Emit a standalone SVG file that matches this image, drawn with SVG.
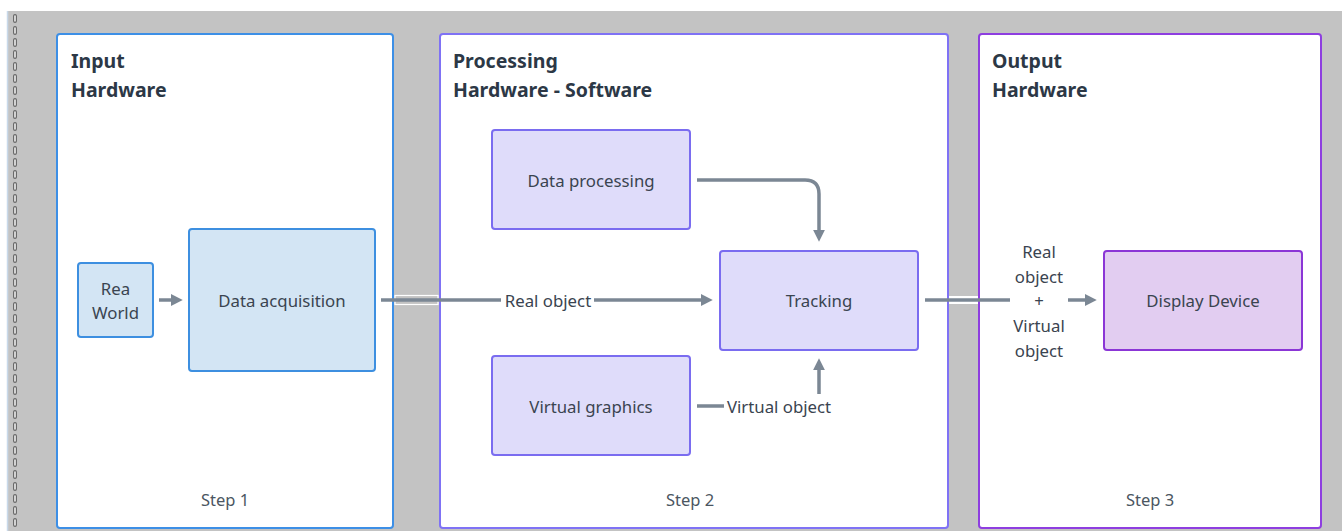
<svg xmlns="http://www.w3.org/2000/svg" width="1342" height="531" viewBox="0 0 1342 531">
  <defs>
    <style>
      .panel { fill: #ffffff; stroke-width: 2; }
      .title { font-family: "Noto Sans", "Liberation Sans", sans-serif; font-weight: 700; font-size: 19.5px; fill: #2c3846; }
      .lbl { font-family: "Noto Sans", "Liberation Sans", sans-serif; font-size: 16.8px; fill: #3a4450; text-anchor: middle; dominant-baseline: central; }
      .step { font-family: "Noto Sans", "Liberation Sans", sans-serif; font-size: 16.5px; fill: #4b5661; text-anchor: middle; dominant-baseline: central; }
      .blue { fill: #d3e5f4; stroke: #3d8fe0; stroke-width: 2; }
      .lav { fill: #dfdcfa; stroke: #7a6cf0; stroke-width: 2; }
      .vio { fill: #e2cdf1; stroke: #8b36d6; stroke-width: 2; }
      .edge { fill: none; stroke: #7b8794; stroke-width: 3.5; }
      .arr { marker-end: url(#head); }
    </style>
    <marker id="head" viewBox="0 0 10 10" refX="6" refY="5" markerWidth="3.4" markerHeight="3.4" orient="auto" markerUnits="strokeWidth">
      <path d="M0,0 L10,5 L0,10 z" fill="#7b8794"/>
    </marker>
  </defs>

  <!-- canvas -->
  <rect x="0" y="0" width="1342" height="531" fill="#ffffff"/>
  <rect x="8" y="11" width="1334" height="520" fill="#c3c3c3"/>
  <line x1="7.5" y1="11" x2="7.5" y2="531" stroke="#c9d9ea" stroke-width="1.5"/>
  <line x1="15" y1="16" x2="15" y2="531" stroke="#6a6a6a" stroke-width="4" stroke-linecap="round" stroke-dasharray="5 7"/>
  <line x1="15" y1="16" x2="15" y2="531" stroke="#ffffff" stroke-width="1.4" stroke-linecap="round" stroke-dasharray="5 7"/>

  <!-- swimlanes -->
  <g id="lane-input">
    <rect class="panel" x="57" y="34" width="336" height="494" rx="3" stroke="#3d8fe6"/>
    <text class="title" x="71" y="68">Input</text>
    <text class="title" x="71" y="97">Hardware</text>
    <text class="step" x="225" y="499">Step 1</text>
  </g>
  <g id="lane-processing">
    <rect class="panel" x="440" y="34" width="508" height="494" rx="3" stroke="#7f72f5"/>
    <text class="title" x="453" y="68">Processing</text>
    <text class="title" x="453" y="97">Hardware - Software</text>
    <text class="step" x="690" y="499">Step 2</text>
  </g>
  <g id="lane-output">
    <rect class="panel" x="979" y="34" width="342" height="494" rx="3" stroke="#8e3ee0"/>
    <text class="title" x="992" y="68">Output</text>
    <text class="title" x="992" y="97">Hardware</text>
    <text class="step" x="1150" y="499">Step 3</text>
  </g>

  <!-- nodes -->
  <g id="real-world">
    <rect class="blue" x="78" y="263" width="75" height="74" rx="3"/>
    <text class="lbl" x="115.5" y="288">Rea</text>
    <text class="lbl" x="115.5" y="312">World</text>
  </g>
  <g id="data-acquisition">
    <rect class="blue" x="189" y="229" width="186" height="142" rx="3"/>
    <text class="lbl" x="282" y="300">Data acquisition</text>
  </g>
  <g id="data-processing">
    <rect class="lav" x="492" y="130" width="198" height="99" rx="3"/>
    <text class="lbl" x="591" y="180">Data processing</text>
  </g>
  <g id="virtual-graphics">
    <rect class="lav" x="492" y="356" width="198" height="99" rx="3"/>
    <text class="lbl" x="591" y="406">Virtual graphics</text>
  </g>
  <g id="tracking">
    <rect class="lav" x="720" y="251" width="198" height="99" rx="3"/>
    <text class="lbl" x="819" y="300">Tracking</text>
  </g>
  <g id="display-device">
    <rect class="vio" x="1104" y="251" width="198" height="99" rx="3"/>
    <text class="lbl" x="1203" y="300">Display Device</text>
  </g>

  <!-- connectors -->
  <g id="connectors">
    <!-- halo where lines cross the lane gaps -->
    <rect x="395" y="295.5" width="43" height="9" fill="none" stroke="#ffffff" stroke-width="1.2"/>
    <rect x="949" y="296" width="29" height="8" fill="#ffffff"/>

    <path class="edge arr" d="M159,300 H178"/>
    <path class="edge arr" d="M381,300 H708"/>
    <path class="edge arr" d="M697,180 H805 Q819,180 819,194 V237"/>
    <path class="edge arr" d="M697,406 H819 V363"/>
    <path class="edge" d="M925,300 H1010"/>
    <path class="edge arr" d="M1068,300 H1092"/>

    <rect x="501" y="289" width="93" height="22" fill="#ffffff"/>
    <text class="lbl" x="548" y="300">Real object</text>

    <rect x="724" y="394" width="110" height="24" fill="#ffffff"/>
    <text class="lbl" x="779" y="406">Virtual object</text>

    <text class="lbl" x="1039" y="251">Real</text>
    <text class="lbl" x="1039" y="276">object</text>
    <text class="lbl" x="1039" y="300">+</text>
    <text class="lbl" x="1039" y="325">Virtual</text>
    <text class="lbl" x="1039" y="350">object</text>
  </g>
</svg>
